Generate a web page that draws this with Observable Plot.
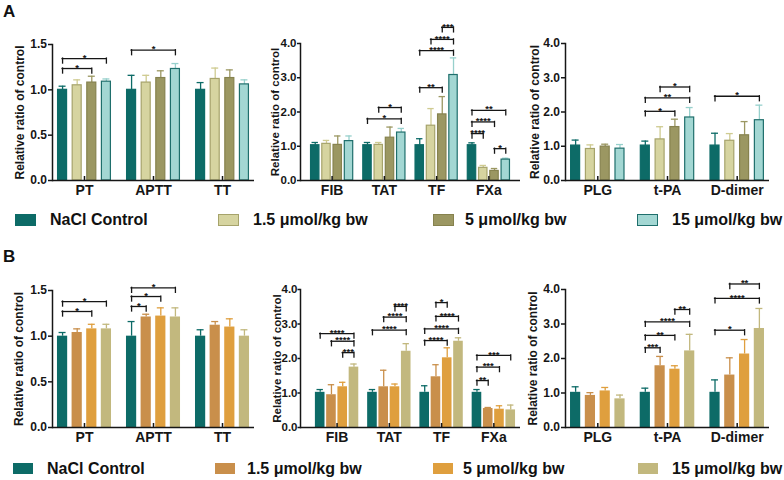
<!DOCTYPE html>
<html><head><meta charset="utf-8">
<script src="https://cdn.jsdelivr.net/npm/d3@7"></script>
<script src="https://cdn.jsdelivr.net/npm/@observablehq/plot@0.6"></script>
<style>
body{margin:0;background:#fff;}
#root{position:relative;width:784px;height:480px;overflow:hidden;font-family:"Liberation Sans",Arial,sans-serif;font-weight:bold;color:#111;}
.abs{position:absolute;white-space:nowrap;}
</style></head><body><div id="root"></div>
<script>
// ---------- data ----------
const seriesNames = ["NaCl Control","1.5 μmol/kg bw","5 μmol/kg bw","15 μmol/kg bw"];

// Panel A
const a1Cats = ["PT","APTT","TT"];
const a1Mean = [[1.00,1.00,1.00],[1.05,1.08,1.12],[1.08,1.13,1.13],[1.09,1.23,1.06]];
const a1Top  = [[1.04,1.16,1.08],[1.11,1.16,1.24],[1.15,1.21,1.22],[1.12,1.29,1.11]];
const a1Sig  = [["PT",0,3,1.345,"*"],["PT",0,2,1.235,"*"],["APTT",0,3,1.437,"*"]];

const a2Cats = ["FIB","TAT","TF","FXa"];
const a2Mean = [[1.03,1.03,1.03,1.03],[1.07,1.04,1.60,0.37],[1.04,1.25,1.93,0.28],[1.15,1.40,3.08,0.61]];
const a2Top  = [[1.11,1.11,1.22,1.10],[1.17,1.11,2.10,0.44],[1.30,1.56,2.45,0.35],[1.30,1.52,3.58,0.65]];
const a2Sig  = [["TAT",0,3,1.80,"*"],["TAT",1,3,2.13,"*"],["TF",0,2,2.71,"**"],["TF",0,3,3.79,"****"],["TF",1,3,4.12,"****"],["TF",2,3,4.47,"***"],["FXa",0,1,1.37,"****"],["FXa",0,2,1.71,"****"],["FXa",0,3,2.05,"**"],["FXa",2,3,0.93,"*"]];

const a3Cats = ["PLG","t-PA","D-dimer"];
const a3Mean = [[1.02,1.02,1.02],[0.92,1.20,1.16],[0.99,1.56,1.32],[0.93,1.84,1.76]];
const a3Top  = [[1.18,1.15,1.38],[1.04,1.57,1.37],[1.06,1.79,1.72],[1.05,2.13,2.20]];
const a3Sig  = [["t-PA",0,2,2.02,"*"],["t-PA",0,3,2.41,"**"],["t-PA",1,3,2.73,"*"],["D-dimer",0,3,2.46,"*"]];

// Panel B
const b1Cats = ["PT","APTT","TT"];
const b1Mean = [[1.00,1.00,1.00],[1.04,1.21,1.12],[1.08,1.22,1.10],[1.08,1.21,1.00]];
const b1Top  = [[1.04,1.16,1.07],[1.08,1.24,1.16],[1.13,1.31,1.19],[1.13,1.31,1.07]];
const b1Sig  = [["PT",0,3,1.379,"*"],["PT",0,2,1.27,"*"],["APTT",0,1,1.325,"*"],["APTT",0,2,1.434,"*"],["APTT",0,3,1.529,"*"]];

const b2Cats = ["FIB","TAT","TF","FXa"];
const b2Mean = [[1.02,1.02,1.02,1.02],[0.95,1.18,1.47,0.55],[1.18,1.18,2.02,0.53],[1.75,2.21,2.50,0.51]];
const b2Top  = [[1.10,1.10,1.21,1.10],[1.24,1.66,1.82,0.58],[1.31,1.26,2.31,0.63],[1.84,2.43,2.60,0.65]];
const b2Sig  = [["FIB",0,3,2.72,"****"],["FIB",1,3,2.50,"****"],["FIB",2,3,2.17,"***"],
                ["TAT",0,3,2.82,"****"],["TAT",1,3,3.20,"****"],["TAT",2,3,3.51,"****"],
                ["TF",0,2,2.52,"****"],["TF",0,3,2.86,"****"],["TF",1,3,3.22,"****"],["TF",1,2,3.62,"*"],
                ["FXa",0,1,1.36,"**"],["FXa",0,2,1.75,"***"],["FXa",0,3,2.09,"***"]];

const b3Cats = ["PLG","t-PA","D-dimer"];
const b3Mean = [[1.02,1.02,1.02],[0.93,1.79,1.52],[1.06,1.69,2.13],[0.83,2.22,2.87]];
const b3Top  = [[1.18,1.14,1.38],[1.01,2.06,2.02],[1.16,1.79,2.55],[0.94,2.70,3.45]];
const b3Sig  = [["t-PA",0,1,2.31,"***"],["t-PA",0,2,2.67,"**"],["t-PA",0,3,3.06,"****"],["t-PA",2,3,3.42,"**"],
                ["D-dimer",0,2,2.82,"*"],["D-dimer",0,3,3.74,"****"],["D-dimer",1,3,4.16,"**"]];

const yTicks15 = [0,0.5,1.0,1.5];
const yTicks4 = [0,1,2,3,4];
const yLabel = "Relative ratio of control";

// ---------- styles ----------
const fillA = ["#0d6b67","#d6d4a0","#9b9762","#a3d7d3"];
const strokeA = ["#0d6b67","#a6a36b","#86824e","#1f6f6c"];
const errA = ["#0d6b67","#cfcb91","#9b9762","#97d0cc"];
const fillB = ["#0d6b67","#c98f4b","#df9f3e","#c2b87e"];
const FONT = "'Liberation Sans', Arial, sans-serif";
const INK = "#161616";

const root = document.getElementById("root");

function panel(cfg) {
  const {cats, mean, top, sig, ymax, ticks, fills, strokes, errs, bordered,
         left, posTop, width, height, mL, mR, mT, mB, pi, po, align = 0.5, labelOffset, barW,
         tickSize = 4, tickPadding = 1.5, tickFont = 12} = cfg;
  const W = width - mL - mR;
  const n = cats.length;
  const step = W / (n - pi + 2 * po);
  const bw = step * (1 - pi);
  const b = barW;
  const s = (bw - b) / 3;
  const rows = seriesNames.map((name, i) => cats.map((c, j) => ({cat: c, mean: mean[i][j], top: top[i][j]})));
  const marks = [];
  rows.forEach((r, i) => {
    const il = i * s, ir = bw - i * s - b;
    const e = bordered ? 0.6 : 0;
    marks.push(Plot.ruleX(r, {x: "cat", y1: "mean", y2: "top", dx: il + b / 2 - bw / 2, stroke: errs[i], strokeWidth: 1.3}));
    marks.push(Plot.tickY(r, {x: "cat", y: "top", insetLeft: il + 1.6, insetRight: ir + 1.6, stroke: errs[i], strokeWidth: 1.3}));
    marks.push(Plot.barY(r, {x: "cat", y: "mean", fill: fills[i], stroke: bordered ? strokes[i] : "none", strokeWidth: 1.2, insetLeft: il + e, insetRight: ir + e}));
  });
  const pairs = [[0,1],[0,2],[0,3],[1,2],[1,3],[2,3]];
  for (const [f, t] of pairs) {
    const d = sig.filter(r => r[1] === f && r[2] === t).map(r => ({cat: r[0], h: r[3], stars: r[4]}));
    if (!d.length) continue;
    const xf = f * s + b / 2, xt = t * s + b / 2;
    marks.push(Plot.ruleY(d, {x1: "cat", x2: "cat", y: "h", insetLeft: xf, insetRight: bw - xt, stroke: INK, strokeWidth: 1.3, strokeLinecap: "square"}));
    marks.push(Plot.ruleX(d, {x: "cat", y1: "h", y2: "h", insetBottom: -5, dx: xf - bw / 2, stroke: INK, strokeWidth: 1.3, strokeLinecap: "square"}));
    marks.push(Plot.ruleX(d, {x: "cat", y1: "h", y2: "h", insetBottom: -5, dx: xt - bw / 2, stroke: INK, strokeWidth: 1.3, strokeLinecap: "square"}));
    marks.push(Plot.text(d, {x: "cat", y: "h", text: "stars", dx: (xf + xt) / 2 - bw / 2, lineAnchor: "bottom", dy: 2.2, fontSize: 9.5, fontWeight: "bold", fill: INK}));
  }
  marks.push(Plot.ruleY([0], {stroke: INK, strokeWidth: 1.5}));
  marks.push(Plot.ruleX(cats, {x: d => d, y1: 0, y2: 0, insetTop: -4, stroke: INK, strokeWidth: 1.5}));
  marks.push(Plot.frame({anchor: "left", stroke: INK, strokeWidth: 1.5}));
  marks.push(Plot.axisY({ticks, tickFormat: d3.format(".1f"), tickSize, tickPadding, strokeWidth: 1.5, stroke: INK, fill: INK,
    fontSize: tickFont, fontWeight: "bold", label: yLabel, labelAnchor: "center", labelOffset, labelArrow: "none"}));
  marks.push(Plot.axisX({tickSize: 0, tickPadding: 5, fontSize: 14, fontWeight: "bold", fill: INK, label: null}));

  const svg = Plot.plot({
    width, height, marginLeft: mL, marginRight: mR, marginTop: mT, marginBottom: mB,
    style: {fontFamily: FONT, fontSize: "12.5px", fontWeight: "bold", background: "transparent", color: INK, overflow: "visible"},
    x: {domain: cats, paddingInner: pi, paddingOuter: po, align, round: false},
    y: {domain: [0, ymax]},
    marks
  });
  const holder = document.createElement("div");
  holder.className = "abs";
  holder.style.left = left + "px";
  holder.style.top = posTop + "px";
  holder.appendChild(svg);
  root.appendChild(holder);
}

const three = {pi: 0.217, po: 0.072, barW: 10.2};
const four = {pi: 0.17, po: 0.19, barW: 9.6};

panel({cats: a1Cats, mean: a1Mean, top: a1Top, sig: a1Sig, ymax: 1.5, ticks: yTicks15, fills: fillA, strokes: strokeA, errs: errA, bordered: true,
  left: 0, posTop: 0, width: 258, height: 200, mL: 52, mR: 4, mT: 44, mB: 20, labelOffset: 37, ...three});
panel({cats: a2Cats, mean: a2Mean, top: a2Top, sig: a2Sig, ymax: 4, ticks: yTicks4, fills: fillA, strokes: strokeA, errs: errA, bordered: true,
  left: 258, posTop: 0, width: 264, height: 200, mL: 42, mR: 2, mT: 43, mB: 20, labelOffset: 30, tickSize: 3, tickPadding: 1, tickFont: 11.5, ...four});
panel({cats: a3Cats, mean: a3Mean, top: a3Top, sig: a3Sig, ymax: 4, ticks: yTicks4, fills: fillA, strokes: strokeA, errs: errA, bordered: true,
  left: 522, posTop: 0, width: 262, height: 200, mL: 43, mR: 15, mT: 43, mB: 20, labelOffset: 35, ...three});

panel({cats: b1Cats, mean: b1Mean, top: b1Top, sig: b1Sig, ymax: 1.5, ticks: yTicks15, fills: fillB, strokes: fillB, errs: fillB, bordered: false,
  left: 0, posTop: 250, width: 258, height: 200, mL: 52, mR: 4, mT: 40, mB: 23, labelOffset: 38, ...three});
panel({cats: b2Cats, mean: b2Mean, top: b2Top, sig: b2Sig, ymax: 4, ticks: yTicks4, fills: fillB, strokes: fillB, errs: fillB, bordered: false,
  left: 258, posTop: 250, width: 264, height: 200, mL: 42, mR: 2, mT: 39, mB: 23, labelOffset: 28, tickSize: 2.5, tickPadding: 0.5, tickFont: 11.5, ...four, align: 0.75});
panel({cats: b3Cats, mean: b3Mean, top: b3Top, sig: b3Sig, ymax: 4, ticks: yTicks4, fills: fillB, strokes: fillB, errs: fillB, bordered: false,
  left: 522, posTop: 250, width: 262, height: 200, mL: 43, mR: 15, mT: 39, mB: 23, labelOffset: 37, ...three});

// ---------- legends & panel letters ----------
function addText(txt, x, y, size) {
  const d = document.createElement("div");
  d.className = "abs";
  d.style.left = x + "px"; d.style.top = y + "px";
  d.style.fontSize = size + "px"; d.style.lineHeight = size + "px";
  d.textContent = txt;
  root.appendChild(d);
}
function legend(y, swY, swW, swH, fills, strokes, bordered, swX, txX) {
  seriesNames.forEach((name, i) => {
    const sw = document.createElement("div");
    sw.className = "abs";
    sw.style.left = swX[i] + "px"; sw.style.top = swY + "px";
    sw.style.width = (swW - (bordered ? 3 : 0)) + "px"; sw.style.height = (swH - (bordered ? 3 : 0)) + "px";
    sw.style.background = fills[i];
    if (bordered) sw.style.border = "1.5px solid " + strokes[i];
    root.appendChild(sw);
    addText(name, txX[i], y, 16);
  });
}
addText("A", 3, 3, 17);
addText("B", 3, 248, 17);
legend(212, 214, 22, 13, fillA, strokeA, true, [15, 218, 433, 637], [50, 253, 465, 672]);
legend(461, 463, 20, 11, fillB, fillB, false, [13, 215, 433, 638], [47, 247, 463, 672]);
</script></body></html>
